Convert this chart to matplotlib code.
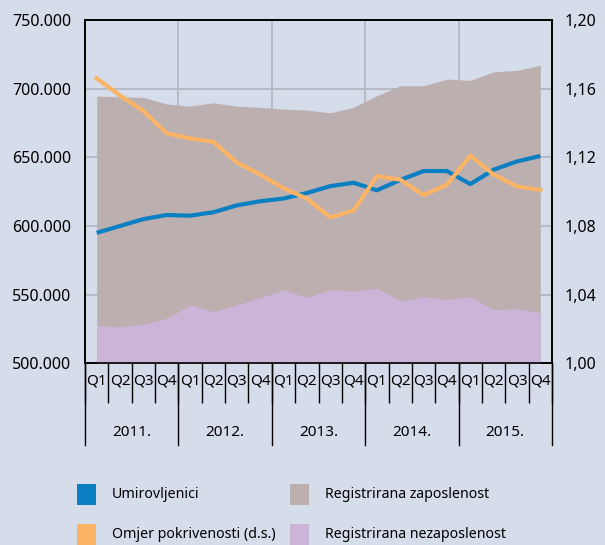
import matplotlib.pyplot as plt
import matplotlib.transforms as mtransforms
from matplotlib.patches import Rectangle
import numpy as np

plt.rcParams['font.family'] = ['Noto Sans', 'DejaVu Sans']

godine = ['2011.', '2012.', '2013.', '2014.', '2015.']
kvartali = ['Q1', 'Q2', 'Q3', 'Q4'] * 5

# u tisucama osoba (lijeva os)
umirovljenici = [595, 600, 605, 608, 607.5, 610, 615, 618, 620, 624,
                 629, 631.5, 626, 633.5, 640, 640, 630.5, 641, 647, 651]
zaposlenost = [694.6, 694, 693.6, 688.8, 687.3, 689.7, 687.3, 686.4, 685.1, 684.4,
               682.4, 686.4, 694.8, 702.1, 702.1, 707, 706, 712.3, 713.3, 717]
nezaposlenost = [527.4, 526.4, 528.6, 532.8, 542.4, 537.6, 542.4, 547.8, 553.4, 548,
                 553.4, 552.6, 554.6, 545.4, 548.5, 546.6, 548.5, 539, 539.7, 536.9]
# desna os
omjer = [1.166, 1.156, 1.147, 1.134, 1.131, 1.129, 1.117, 1.110, 1.102, 1.096,
         1.085, 1.089, 1.109, 1.107, 1.098, 1.104, 1.121, 1.110, 1.103, 1.101]

legenda = ['Umirovljenici', 'Omjer pokrivenosti (d.s.)',
           'Registrirana zaposlenost', 'Registrirana nezaposlenost']

pozadina = '#d5dcea'
plava = '#0a7fc2'
narancasta = '#fbb466'
siva = '#bbafb0'
lila = '#cbb4d8'
mreza = '#b4b8c2'

x = np.arange(len(kvartali))
umir = np.array(umirovljenici) * 1000
zap = np.array(zaposlenost) * 1000
nez = np.array(nezaposlenost) * 1000

fig = plt.figure(figsize=(6.05, 5.45), dpi=100, facecolor=pozadina)
ax = fig.add_axes([85 / 605, 1 - 363.3 / 545, 467 / 605, 343.3 / 545])
ax.set_facecolor(pozadina)

ax.fill_between(x, 500000, zap, color=siva, lw=0, zorder=2)
ax.fill_between(x, 500000, nez, color=lila, lw=0, zorder=3)
ax.plot(x, umir, color=plava, lw=3, zorder=4, solid_capstyle='butt')

ax.set_xlim(-0.5, 19.5)
ax.set_ylim(500000, 750000)
ax.set_yticks(np.arange(500000, 750001, 50000))
ax.set_yticklabels(['{:,}'.format(v).replace(',', '.') for v in range(500000, 750001, 50000)],
                   fontsize=11.5)
ax.tick_params(axis='y', length=0, pad=10)

# mreza
for v in range(550000, 750000, 50000):
    ax.axhline(v, color=mreza, lw=1.3, zorder=1)
for b in [3.5, 7.5, 11.5, 15.5]:
    ax.axvline(b, color=mreza, lw=1.3, zorder=1)

ax.set_xticks(x)
ax.set_xticklabels(kvartali, fontsize=11)
ax.tick_params(axis='x', length=0, pad=7)
ax.set_xticks(np.arange(-0.5, 20, 1), minor=True)
ax.tick_params(axis='x', which='minor', length=29, width=1, color='black', direction='out')

trans = mtransforms.blended_transform_factory(ax.transData, ax.transAxes)
visina = 343.3
for b in np.arange(-0.5, 20, 4):
    ax.plot([b, b], [0, -82 / visina], transform=trans, color='black', lw=1, clip_on=False)
for i, g in enumerate(godine):
    ax.text(i * 4 + 1.5, -69 / visina, g, transform=trans, ha='center', va='center',
            fontsize=11)

for s in ax.spines.values():
    s.set_color('black')
    s.set_linewidth(1.2)

ax2 = ax.twinx()
ax2.plot(x, omjer, color=narancasta, lw=3, zorder=5)
ax2.set_ylim(1.00, 1.20)
ax2.set_yticks(np.arange(1.00, 1.201, 0.04))
ax2.set_yticklabels(['{:.2f}'.format(v).replace('.', ',') for v in np.arange(1.00, 1.201, 0.04)],
                    fontsize=11.5)
ax2.tick_params(axis='y', length=0, pad=9)
for s in ax2.spines.values():
    s.set_color('black')
    s.set_linewidth(1.2)

# legenda
boje = [plava, narancasta, siva, lila]
mjesta = [(77, 484), (77, 524), (290, 484), (290, 524)]
for (px, py), boja, tekst in zip(mjesta, boje, legenda):
    fig.patches.append(Rectangle((px / 605, 1 - (py + 21) / 545), 19 / 605, 21 / 545,
                                 transform=fig.transFigure, color=boja, lw=0))
    fig.text((px + 35) / 605, 1 - (py + 10.5) / 545, tekst, ha='left', va='center',
             fontsize=10.2)

fig.savefig('out.png', dpi=100, facecolor=pozadina)
